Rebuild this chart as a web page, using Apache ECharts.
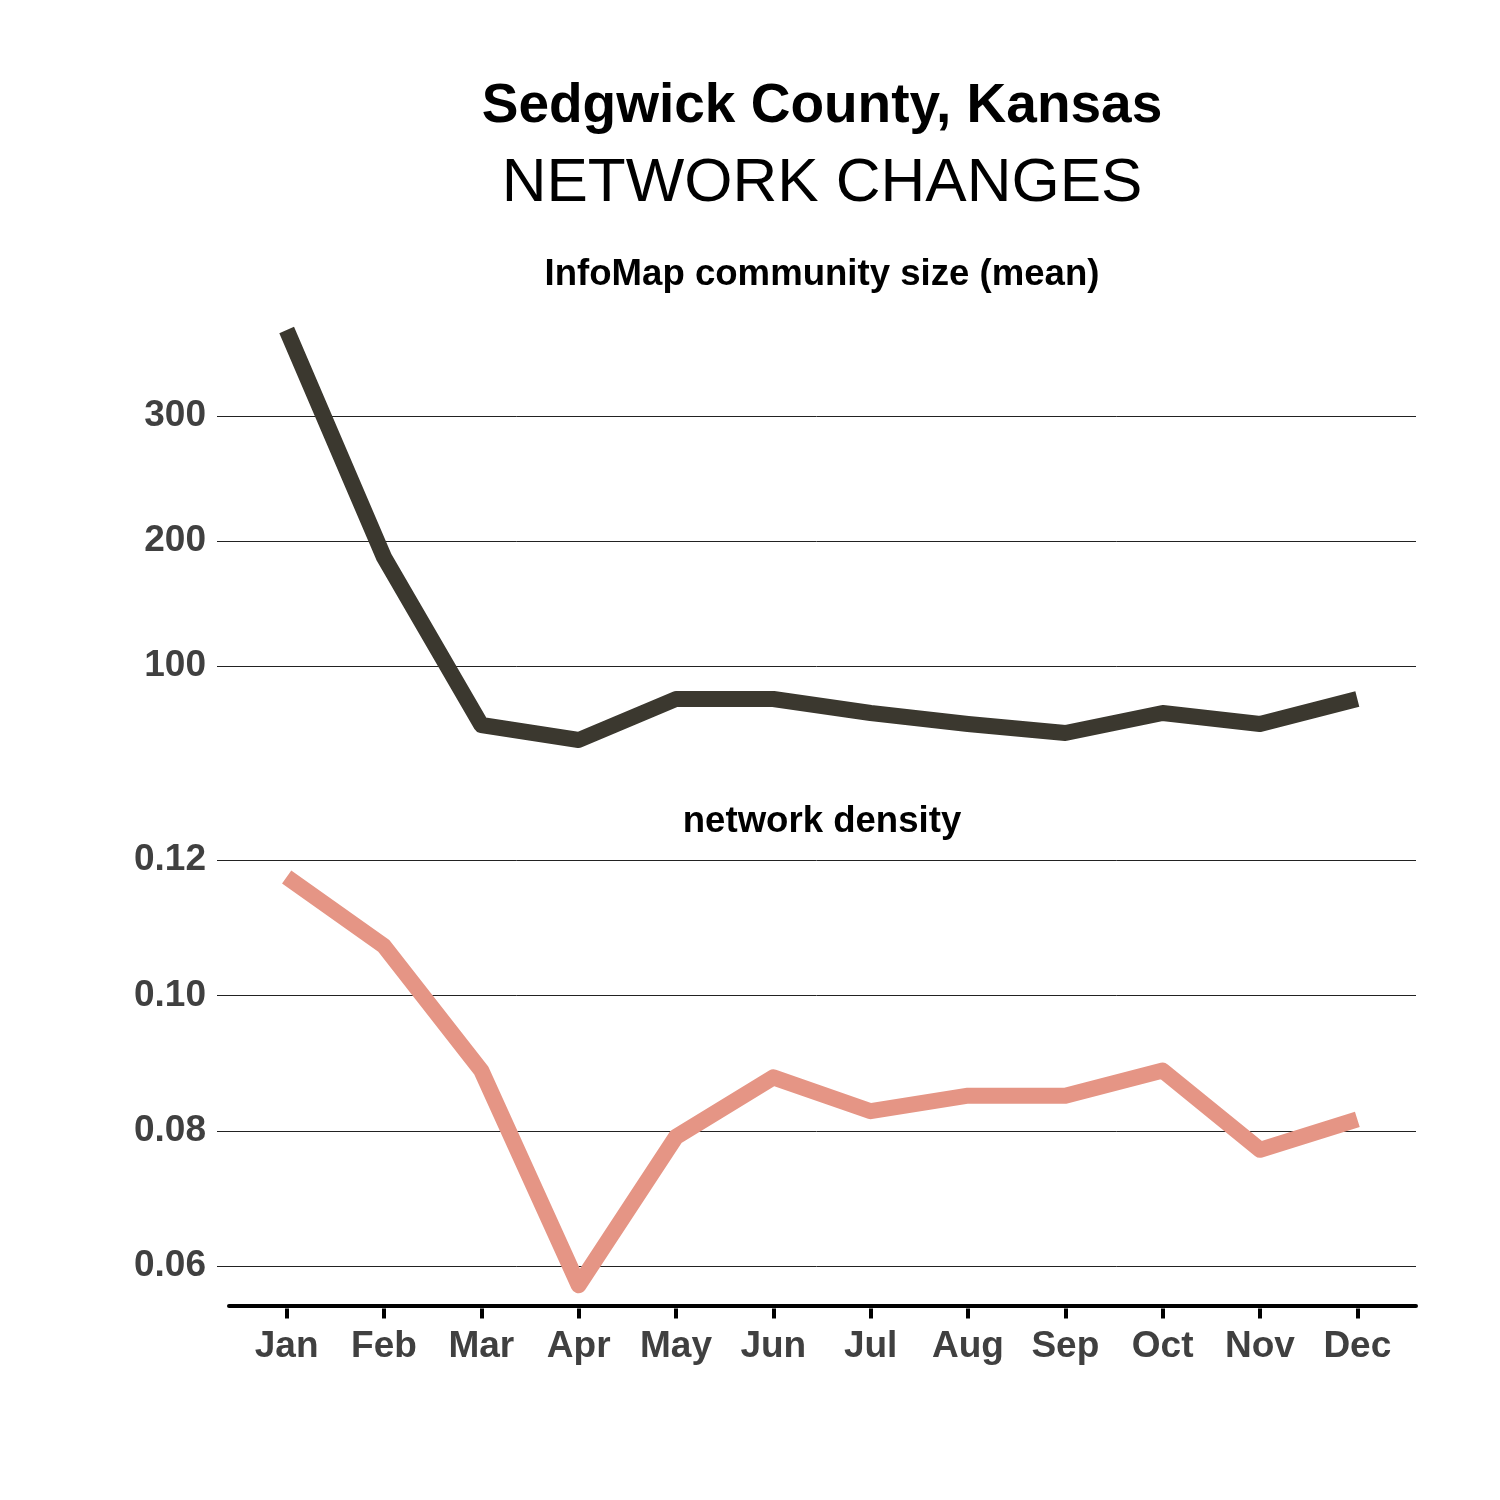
<!DOCTYPE html>
<html>
<head>
<meta charset="utf-8">
<script src="https://cdn.jsdelivr.net/npm/echarts@6/dist/echarts.min.js"></script>
<style>
  body { margin: 0; background: #fff; }
  #chart { width: 1500px; height: 1500px; }
</style>
</head>
<body>
<div id="chart"></div>
<script>
// dados
const months = ['Jan', 'Feb', 'Mar', 'Apr', 'May', 'Jun', 'Jul', 'Aug', 'Sep', 'Oct', 'Nov', 'Dec']
const communitySize = [368.8, 187, 52.8, 40.8, 73.6, 73.6, 62.4, 53.6, 46.4, 62.4, 53.6, 73.6]
const density = [0.1175, 0.1073, 0.0889, 0.0572, 0.0791, 0.0879, 0.0829, 0.0852, 0.0852, 0.0889, 0.0772, 0.0817]

// expansao de 5% como no ggplot
function faixa(arr) {
    let lo = Math.min(...arr), hi = Math.max(...arr)
    let pad = (hi - lo) * 0.05
    return [lo - pad, hi + pad]
}
const faixaTop = faixa(communitySize)
const faixaBot = faixa(density)

const topGrid = { top: 309.5, height: 451 }
const botGrid = { top: 856.6, height: 449 }

const labelStyle = {
    fontFamily: 'Liberation Sans',
    fontWeight: 'bold',
    fontSize: 37,
    color: '#404040'
}

let myChart = echarts.init(document.getElementById('chart'), null, { renderer: 'canvas' })

myChart.setOption({
    animation: false,
    backgroundColor: '#fff',
    title: [
        {
            text: 'Sedgwick County, Kansas',
            left: 822, top: 107, padding: 0,
            textAlign: 'center', textVerticalAlign: 'middle',
            textStyle: { fontFamily: 'Liberation Sans', fontWeight: 'bold', fontSize: 55, color: '#000' }
        },
        {
            text: 'NETWORK CHANGES',
            left: 822, top: 184, padding: 0,
            textAlign: 'center', textVerticalAlign: 'middle',
            textStyle: { fontFamily: 'Liberation Sans', fontWeight: 'normal', fontSize: 62, color: '#000' }
        },
        {
            text: 'InfoMap community size (mean)',
            left: 822, top: 275, padding: 0,
            textAlign: 'center', textVerticalAlign: 'middle',
            textStyle: { fontFamily: 'Liberation Sans', fontWeight: 'bold', fontSize: 36.6, color: '#000' }
        },
        {
            text: 'network density',
            left: 822, top: 822, padding: 0,
            textAlign: 'center', textVerticalAlign: 'middle',
            textStyle: { fontFamily: 'Liberation Sans', fontWeight: 'bold', fontSize: 36.6, color: '#000' }
        }
    ],
    grid: [
        { left: 238, right: 94, top: topGrid.top, height: topGrid.height },
        { left: 238, right: 94, top: botGrid.top, height: botGrid.height },
        { left: 217, right: 84, top: topGrid.top, height: topGrid.height },
        { left: 217, right: 84, top: botGrid.top, height: botGrid.height },
        { left: 229, right: 84, top: botGrid.top, height: botGrid.height }
    ],
    xAxis: [
        { gridIndex: 0, type: 'category', data: months, show: false },
        {
            gridIndex: 1, type: 'category', data: months, offset: 3,
            axisLine: { show: false },
            axisTick: { show: true, alignWithLabel: true, length: 10, lineStyle: { width: 4, color: '#000' } },
            axisLabel: Object.assign({ margin: 20 }, labelStyle),
            splitLine: { show: false }
        },
        { gridIndex: 2, type: 'category', data: months, show: false },
        { gridIndex: 3, type: 'category', data: months, show: false },
        {
            gridIndex: 4, type: 'value', min: 0, max: 1, offset: 3,
            axisLine: { show: true, lineStyle: { width: 4, color: '#000' } },
            axisTick: { show: false }, axisLabel: { show: false }, splitLine: { show: false }
        }
    ],
    yAxis: [
        { gridIndex: 0, type: 'value', min: faixaTop[0], max: faixaTop[1], show: false },
        { gridIndex: 1, type: 'value', min: faixaBot[0], max: faixaBot[1], show: false },
        {
            gridIndex: 2, type: 'value', min: faixaTop[0], max: faixaTop[1], splitNumber: 4,
            axisLine: { show: false }, axisTick: { show: false },
            axisLabel: Object.assign({ margin: 11, showMinLabel: false, showMaxLabel: false, padding: [4, 0, 0, 0] }, labelStyle),
            splitLine: { show: true, showMinLine: false, showMaxLine: false, lineStyle: { color: '#222', width: 1 } }
        },
        {
            gridIndex: 3, type: 'value', min: faixaBot[0], max: faixaBot[1], splitNumber: 3,
            axisLine: { show: false }, axisTick: { show: false },
            axisLabel: Object.assign({
                margin: 11, showMinLabel: false, showMaxLabel: false, padding: [4, 0, 0, 0],
                formatter: v => v.toFixed(2)
            }, labelStyle),
            splitLine: { show: true, showMinLine: false, showMaxLine: false, lineStyle: { color: '#222', width: 1 } }
        },
        { gridIndex: 4, type: 'value', show: false }
    ],
    series: [
        {
            name: 'InfoMap community size (mean)',
            type: 'line',
            xAxisIndex: 0, yAxisIndex: 0,
            data: communitySize,
            showSymbol: false,
            lineStyle: { color: '#3b382f', width: 16, cap: 'butt', join: 'round' },
            z: 5
        },
        {
            name: 'network density',
            type: 'line',
            xAxisIndex: 1, yAxisIndex: 1,
            data: density,
            showSymbol: false,
            lineStyle: { color: '#e59585', width: 16, cap: 'butt', join: 'round' },
            z: 5
        }
    ]
})
</script>
</body>
</html>
